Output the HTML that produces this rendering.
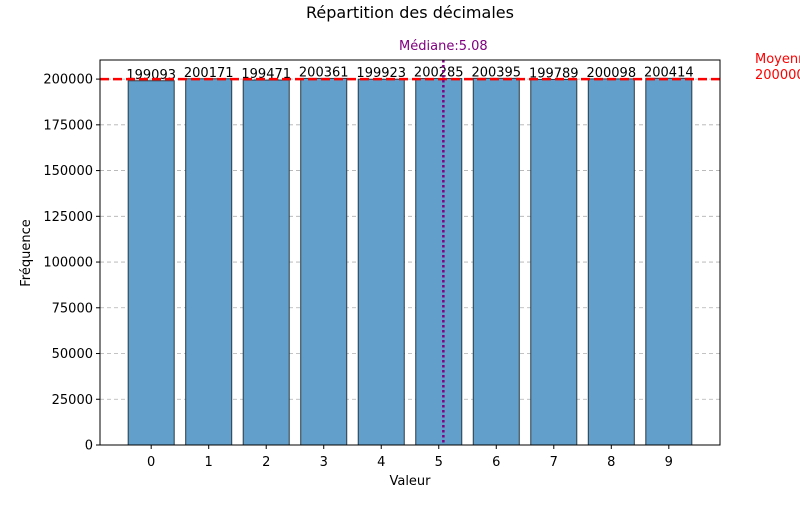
<!DOCTYPE html>
<html><head><meta charset="utf-8"><style>
body{margin:0;background:#fff;width:800px;height:500px;overflow:hidden;font-family:"Liberation Sans","DejaVu Sans",sans-serif}
</style></head><body>
<svg id="chart" width="800" height="500" xmlns="http://www.w3.org/2000/svg" font-family="DejaVu Sans, Liberation Sans, sans-serif"></svg>
<script>
const categories=[0,1,2,3,4,5,6,7,8,9];
const values=[199093,200171,199471,200361,199923,200285,200395,199789,200098,200414];
const yTicks=[0,25000,50000,75000,100000,125000,150000,175000,200000];
const meanValue=200000;
const medianValue=5.08;
const L=100,R=720,T=60,B=445;
const xmin=-0.89,xmax=9.89,ymax=Math.max(...values)*1.05;
const xs=v=>L+(v-xmin)/(xmax-xmin)*(R-L);
const ys=v=>B-v/ymax*(B-T);
const svg=document.getElementById('chart');
const NS='http://www.w3.org/2000/svg';
function mk(tag,attrs,parent){const e=document.createElementNS(NS,tag);for(const k in attrs)e.setAttribute(k,attrs[k]);(parent||svg).appendChild(e);return e;}
function txt(s,attrs){const e=mk('text',attrs);e.textContent=s;return e;}
let t=txt('Répartition des décimales',{x:410,y:18,'text-anchor':'middle','font-size':16});


// grid
yTicks.forEach(v=>{
 const y=ys(v);
 const g=mk('line',{x1:L,x2:R,y1:y,y2:y,stroke:'#b0b0b0','stroke-dasharray':'4,3','stroke-width':0.8});
 
 
 const tk=mk('line',{x1:L-4,x2:L,y1:y,y2:y,stroke:'#000'});
 
 
 const l=txt(String(v),{x:L-7,y:y+4.5,'text-anchor':'end','font-size':13});
 
 
});
// bars
const bw=0.8*(R-L)/(xmax-xmin);
categories.forEach((c,i)=>{
 const x=xs(c),y=ys(values[i]);
 const b=mk('rect',{x:x-bw/2,y:y,width:bw,height:B-y,fill:'#62a0cb',stroke:'#2a3a44','stroke-width':1});
 
 
 const vl=txt(String(values[i]),{x:x,y:y-2,'text-anchor':'middle','font-size':13});
 
 
 const tk=mk('line',{x1:x,x2:x,y1:B,y2:B+4,stroke:'#000'});
 
 
 const xl=txt(String(c),{x:x,y:B+21,'text-anchor':'middle','font-size':13});
 
 
});
// mean line
const my=ys(meanValue);
const ml=mk('line',{x1:L,x2:R,y1:my,y2:my,stroke:'#ff0000','stroke-width':2.5,'stroke-dasharray':'9,4'});


const mt=txt('Moyenne:',{x:755,y:my-16,'font-size':13,fill:'#ff0000'});


const mt2=txt(String(meanValue),{x:755,y:my,'font-size':13,fill:'#ff0000'});


// median line
const mx=xs(medianValue);
const md=mk('line',{x1:mx,x2:mx,y1:T,y2:B,stroke:'#800080','stroke-width':2.5,'stroke-dasharray':'2.5,2.5'});


const mdt=txt('Médiane:'+medianValue.toFixed(2),{x:mx,y:T-10,'text-anchor':'middle','font-size':13,fill:'#800080'});


// frame
const fr=mk('rect',{x:L,y:T,width:R-L,height:B-T,fill:'none',stroke:'#000','stroke-width':1});


const xt=txt('Valeur',{x:410,y:485,'text-anchor':'middle','font-size':13});


const yt=txt('Fréquence',{x:0,y:0,'text-anchor':'middle','font-size':13,transform:'translate(30,253) rotate(-90)'});


</script>
</body></html>
